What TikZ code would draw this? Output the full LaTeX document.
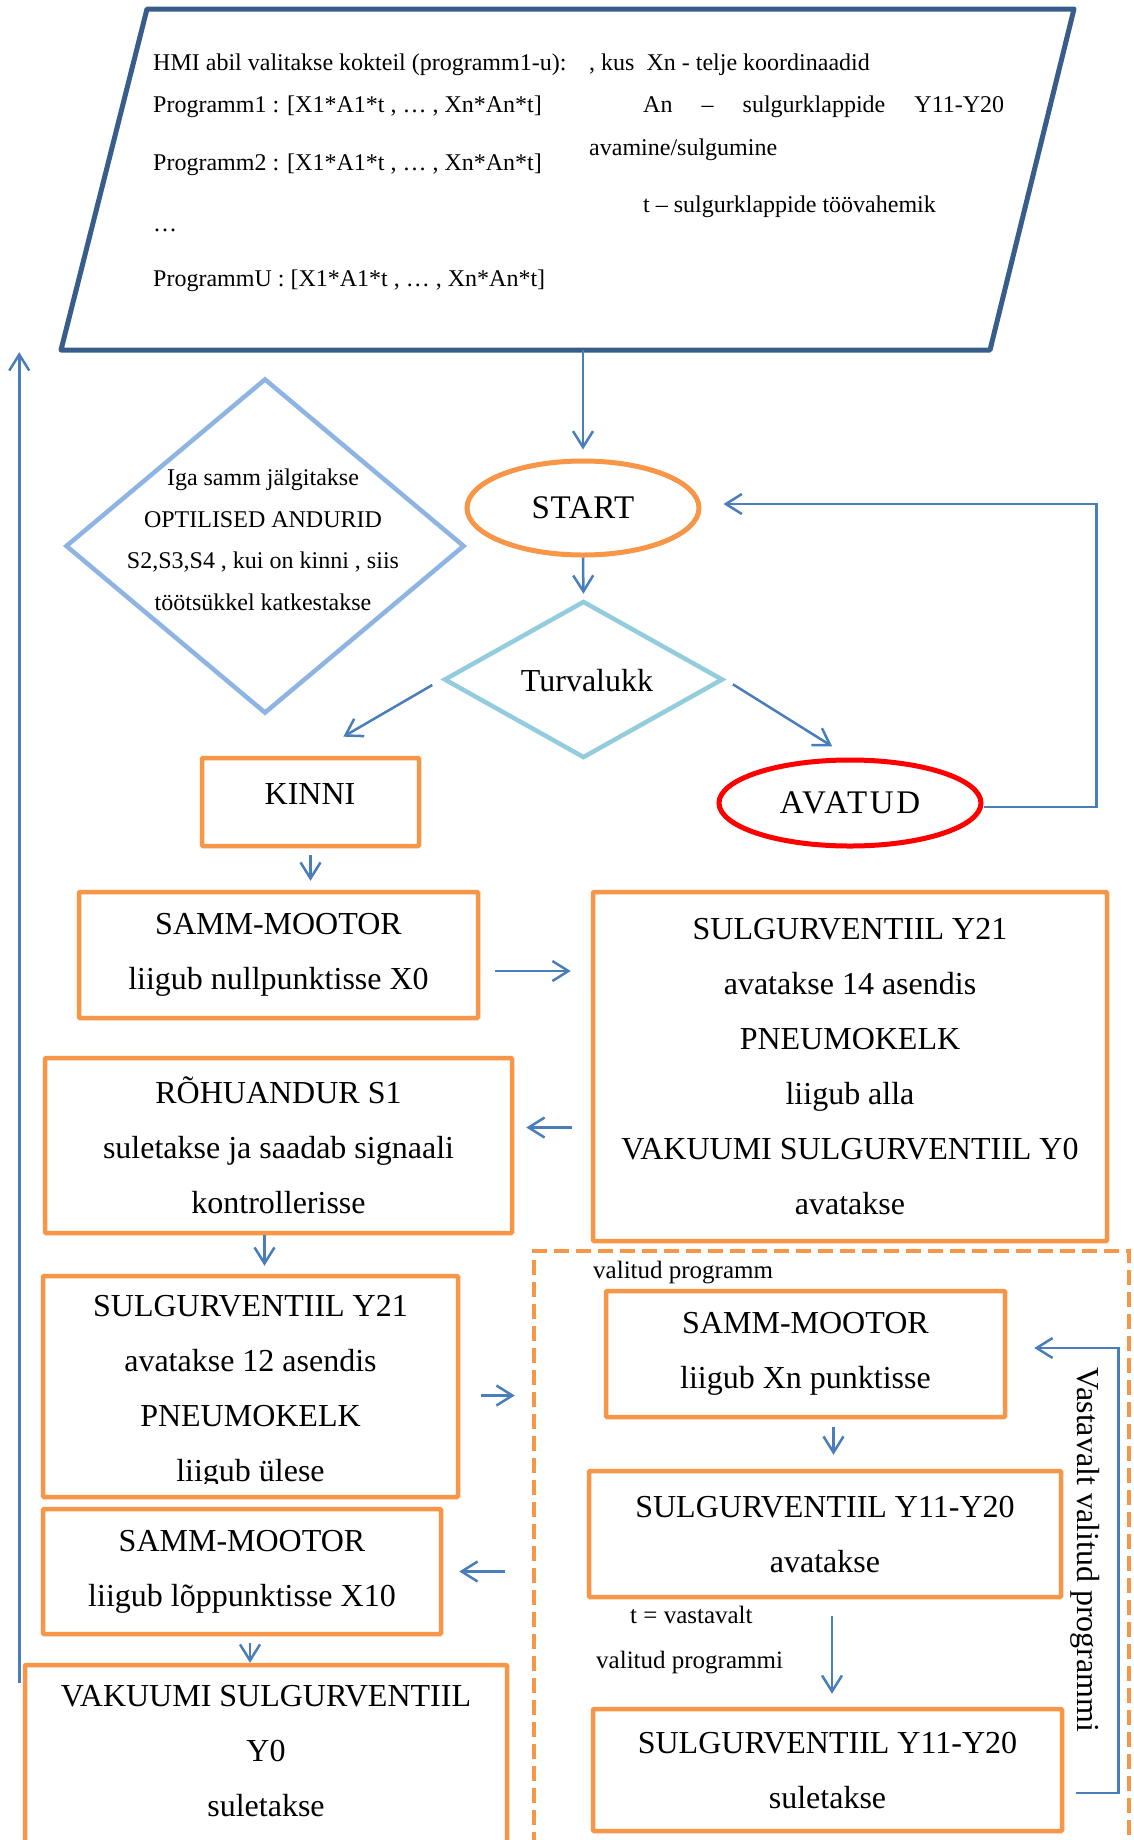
\documentclass[tikz,border=0pt]{standalone}
\usepackage{fontspec}
\setmainfont{Liberation Serif}
\usetikzlibrary{shapes.geometric,arrows.meta,calc}
\definecolor{org}{HTML}{F79646}
\definecolor{ablue}{HTML}{4A7EBB}
\definecolor{pblue}{HTML}{385D8A}
\definecolor{dleft}{HTML}{8EB4E3}
\definecolor{dtur}{HTML}{93CDDD}
\definecolor{avred}{HTML}{FF0000}
\newcommand{\bigf}{\fontsize{32}{55}\selectfont}
\newcommand{\midf}{\fontsize{24}{41.5}\selectfont}
\newcommand{\smf}{\fontsize{25}{30}\selectfont}
\begin{document}
\begin{tikzpicture}[x=1pt,y=-1pt,
  box/.style={draw=org, line width=4.5pt, rounded corners=1pt, inner sep=0pt, align=center, font=\bigf},
  arr/.style={draw=ablue, line width=2.5pt, -{Straight Barb[length=16pt,width=20pt]}},
  ptxt/.style={anchor=base west, inner sep=0pt, font=\fontsize{24}{28}\selectfont},
  stxt/.style={anchor=base west, inner sep=0pt, font=\smf},
  plain/.style={inner sep=0pt, align=center}]
\clip (0,0) rectangle (1134,1840);
\fill[white] (0,0) rectangle (1134,1840);

% input parallelogram
\node[minimum width=1013pt, minimum height=341pt, inner sep=0pt] (para) at (567.5,179.5) {};
\draw[pblue, line width=5pt, line join=round] (147,9) -- (1074,9) -- (990,350) -- (61,350) -- cycle;
\node[ptxt] (h1) at (153,70) {HMI abil valitakse kokteil (programm1-u):};
\node[ptxt] (h2) at (153,112) {Programm1 : [X1*A1*t , … , Xn*An*t]};
\node[ptxt] (h3) at (153,170) {Programm2 : [X1*A1*t , … , Xn*An*t]};
\node[ptxt] (h4) at (153,231) {…};
\node[ptxt] (h5) at (153,286) {ProgrammU : [X1*A1*t , … , Xn*An*t]};
\node[ptxt] (r1) at (589,70) {, kus\ \ Xn - telje koordinaadid};
\node[ptxt] (r2) at (643,112) {\makebox[361pt][s]{An – sulgurklappide Y11-Y20}};
\node[ptxt] (r3) at (589,155) {avamine/sulgumine};
\node[ptxt] (r4) at (643,212) {t – sulgurklappide töövahemik};

% left diamond
\node[diamond, draw=dleft, line width=4.5pt, minimum width=399pt, minimum height=335pt, inner sep=0pt] (opt) at (265,546) {};
\node[plain, font=\midf] (opttext) at (263,540) {Iga samm jälgitakse\\OPTILISED ANDURID\\S2,S3,S4 , kui on kinni , siis\\töötsükkel katkestakse};

% start / turvalukk
\node[ellipse, draw=org, line width=5pt, minimum width=232pt, minimum height=94pt, inner sep=0pt, font=\fontsize{33}{40}\selectfont\addfontfeature{LetterSpace=2}] (start) at (583,508) {START};
\node[diamond, draw=dtur, line width=4.5pt, minimum width=279pt, minimum height=157pt, inner sep=0pt] (tur) at (583.5,679.5) {};
\node[plain, font=\bigf] (turtext) at (587,681) {Turvalukk};

\node[box, minimum width=217pt, minimum height=88pt] (kinni) at (310.5,802) {};
\node[plain, font=\bigf] (kinnitext) at (310,794) {KINNI};
\node[ellipse, draw=avred, line width=5pt, minimum width=262pt, minimum height=86pt, inner sep=0pt, font=\fontsize{33}{40}\selectfont\addfontfeature{LetterSpace=8}] (avatud) at (850,803) {AVATUD};

% main boxes
\node[box, minimum width=399pt, minimum height=126pt] (sm1) at (278.5,955) {SAMM-MOOTOR\\liigub nullpunktisse X0};
\node[box, minimum width=514pt, minimum height=349pt] (big) at (850,1066.5) {SULGURVENTIIL Y21\\avatakse 14 asendis\\PNEUMOKELK\\liigub alla\\VAKUUMI SULGURVENTIIL Y0\\avatakse};
\node[box, minimum width=467pt, minimum height=175pt] (roh) at (278.5,1145.5) {RÕHUANDUR S1\\suletakse ja saadab signaali\\kontrollerisse};
\node[box, minimum width=415pt, minimum height=221pt] (y21b) at (250.5,1386.5) {};
\begin{scope}
\clip (43,1276) rectangle (458,1483);
\node[plain, font=\bigf] (y21btext) at (250.5,1392) {SULGURVENTIIL Y21\\avatakse 12 asendis\\PNEUMOKELK\\liigub ülese};
\end{scope}
\node[box, minimum width=398pt, minimum height=125pt] (sm2) at (242,1571.5) {SAMM-MOOTOR\\liigub lõppunktisse X10};
\node[box, minimum width=482pt, minimum height=235pt] (vak) at (266,1782.5) {};
\node[plain, font=\bigf] (vaktext) at (266,1751) {VAKUUMI SULGURVENTIIL\\Y0\\suletakse};

% group of selected programme
\node[draw=org, line width=4.5pt, dash pattern=on 15pt off 7pt, minimum width=595pt, minimum height=649pt, inner sep=0pt] (grp) at (831.5,1575.5) {};
\node[stxt] (vp) at (593,1278) {valitud programm};
\node[box, minimum width=399pt, minimum height=126pt] (smx) at (805.5,1354) {SAMM-MOOTOR\\liigub Xn punktisse};
\node[box, minimum width=472pt, minimum height=126pt] (sv1) at (825,1534) {SULGURVENTIIL Y11-Y20\\avatakse};
\node[box, minimum width=469pt, minimum height=122pt] (sv2) at (827.5,1770) {SULGURVENTIIL Y11-Y20\\suletakse};
\node[stxt] (tv) at (630,1623) {t = vastavalt};
\node[stxt] (tv2) at (596,1668) {valitud programmi};
\node[plain, font=\bigf, rotate=-90] (vvp) at (1085,1550) {Vastavalt valitud programmi};

% connectors
\draw[arr, shorten >=9pt] (start.north |- para.south) -- (start.north);
\draw[arr, shorten >=5pt] (start.south) -- (tur.north);
\draw[arr, shorten <=11pt, shorten >=38pt] (tur.west) -- (kinni.north);
\draw[arr, shorten <=9pt, shorten >=21pt] (tur.east) -- (avatud.north);
\draw[arr] ($(avatud.east)+(0,4)$) -- ++(113,0) |- ($(start.east)+(22,-4)$);
\draw[arr, shorten <=7pt, shorten >=9pt] (kinni.south) -- (kinni.south |- sm1.north);
\draw[arr] ($(sm1.east)+(15,16)$) -- ($(sm1.east -| big.west)+(-20,16)$);
\draw[arr] ($(roh.east -| big.west)+(-19,-18)$) -- ($(roh.east)+(12,-18)$);
\draw[arr] ($(roh.south)+(-14,0)$) -- ($(roh.south |- y21b.north)+(-14,-8)$);
\draw[arr] ($(y21b.east)+(21,9)$) -- ($(y21b.east -| grp.west)+(-17,9)$);
\draw[arr] ($(sm2.east -| grp.west)+(-27,0)$) -- ($(sm2.east)+(16,0)$);
\draw[arr, shorten <=7pt] ($(sm2.south)+(8,0)$) -- ($(sm2.south |- vak.north)+(8,0)$);
\draw[arr] ($(vak.north west)+(-3.5,20)$) -- ($(vak.north west |- para.south)+(-3.5,2)$);
\draw[arr, shorten <=8pt, shorten >=14pt] ($(smx.south)+(28,0)$) -- ($(smx.south |- sv1.north)+(28,0)$);
\draw[arr, shorten <=17pt, shorten >=13pt] ($(sv1.south)+(7,0)$) -- ($(sv1.south |- sv2.north)+(7,0)$);
\draw[arr] ($(sv2.east)+(12,23)$) -- ++(42,0) |- ($(smx.east)+(27,-6)$);
\end{tikzpicture}
\end{document}
